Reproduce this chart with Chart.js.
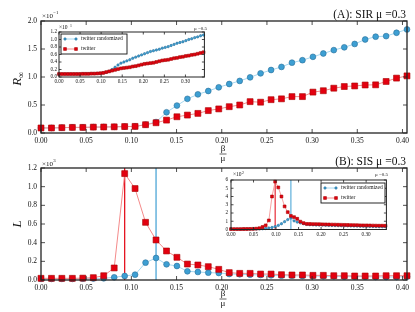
<!DOCTYPE html>
<html>
<head>
<meta charset="utf-8">
<script src="https://cdn.jsdelivr.net/npm/chart.js@4.4.0/dist/chart.umd.min.js"></script>
<style>
  html, body { margin: 0; padding: 0; background: #fff; }
  #wrap { position: relative; width: 415px; height: 312px; overflow: hidden; }
  canvas { position: absolute; }
</style>
</head>
<body>
<div id="wrap">
  <canvas id="sirMain" width="415" height="165" style="left:0;top:0"></canvas>
  <canvas id="sisMain" width="415" height="162" style="left:0;top:150px"></canvas>
  <canvas id="sirInset" width="165" height="64" style="left:44px;top:24px"></canvas>
  <canvas id="sisInset" width="175" height="70" style="left:216px;top:170px"></canvas>
</div>
<script>
// beta/mu values of the main panels (mu = 0.3)
const mainX = [0, 0.0116, 0.0231, 0.0347, 0.0463, 0.0579, 0.0694, 0.0810, 0.0926, 0.1041,
  0.1157, 0.1273, 0.1389, 0.1504, 0.1620, 0.1736, 0.1851, 0.1967, 0.2083, 0.2199,
  0.2314, 0.2430, 0.2546, 0.2661, 0.2777, 0.2893, 0.3009, 0.3124, 0.3240, 0.3356,
  0.3471, 0.3587, 0.3703, 0.3819, 0.3934, 0.4050];

// (A) SIR, R_inf in units of 1e-1
const sirRandomized = [0.09, 0.09, 0.095, 0.10, 0.10, 0.105, 0.107, 0.11, 0.115, 0.118,
  0.15, 0.195, 0.37, 0.49, 0.61, 0.69, 0.75, 0.816, 0.875, 0.93,
  0.994, 1.065, 1.125, 1.18, 1.256, 1.30, 1.36, 1.42, 1.48, 1.53,
  1.59, 1.67, 1.72, 1.73, 1.79, 1.85];
const sirTwitter = [0.09, 0.09, 0.095, 0.10, 0.10, 0.105, 0.107, 0.11, 0.115, 0.118,
  0.148, 0.183, 0.23, 0.29, 0.32, 0.35, 0.40, 0.43, 0.47, 0.50,
  0.56, 0.55, 0.595, 0.61, 0.65, 0.65, 0.73, 0.755, 0.80, 0.83,
  0.84, 0.857, 0.86, 0.92, 0.98, 1.02];

// (B) SIS, L in units of 1e3
const sisRandomized = [0.012, 0.012, 0.012, 0.012, 0.014, 0.016, 0.018, 0.029, 0.043, 0.057,
  0.186, 0.236, 0.168, 0.15, 0.093, 0.086, 0.079, 0.075, 0.064, 0.061,
  0.057, 0.054, 0.05, 0.046, 0.046, 0.043, 0.043, 0.04, 0.04, 0.036,
  0.036, 0.036, 0.032, 0.032, 0.032, 0.036];
const sisTwitter = [0.018, 0.018, 0.018, 0.018, 0.02, 0.025, 0.046, 0.129, 1.14, 0.98,
  0.618, 0.429, 0.311, 0.243, 0.171, 0.161, 0.143, 0.114, 0.079, 0.071,
  0.071, 0.064, 0.064, 0.057, 0.054, 0.054, 0.05, 0.05, 0.046, 0.046,
  0.043, 0.043, 0.043, 0.046, 0.046, 0.046];

// beta/mu values of the insets (mu = 0.5)
const insetX = [0, 0.007, 0.014, 0.021, 0.028, 0.035, 0.042, 0.049, 0.056, 0.063,
  0.070, 0.077, 0.084, 0.091, 0.098, 0.105, 0.112, 0.119, 0.126, 0.133,
  0.140, 0.147, 0.154, 0.161, 0.168, 0.175, 0.182, 0.189, 0.196, 0.203,
  0.210, 0.217, 0.224, 0.231, 0.238, 0.245, 0.252, 0.259, 0.266, 0.273,
  0.280, 0.287, 0.294, 0.301, 0.308, 0.315, 0.322, 0.329, 0.336, 0.343];

const sirInsetRandomized = [0.08, 0.08, 0.08, 0.08, 0.08, 0.08, 0.08, 0.08, 0.085, 0.085,
  0.085, 0.09, 0.09, 0.095, 0.10, 0.11, 0.125, 0.15, 0.20, 0.26,
  0.32, 0.37, 0.40, 0.43, 0.46, 0.50, 0.53, 0.56, 0.59, 0.62,
  0.65, 0.68, 0.70, 0.72, 0.74, 0.77, 0.79, 0.81, 0.84, 0.87,
  0.90, 0.92, 0.94, 0.97, 1.00, 1.02, 1.05, 1.07, 1.10, 1.12];
const sirInsetTwitter = [0.08, 0.08, 0.08, 0.08, 0.08, 0.08, 0.08, 0.08, 0.085, 0.085,
  0.085, 0.09, 0.09, 0.095, 0.10, 0.11, 0.13, 0.15, 0.17, 0.19,
  0.21, 0.23, 0.24, 0.25, 0.26, 0.28, 0.29, 0.31, 0.33, 0.35,
  0.36, 0.37, 0.38, 0.40, 0.42, 0.44, 0.45, 0.46, 0.48, 0.50,
  0.51, 0.53, 0.54, 0.56, 0.57, 0.59, 0.60, 0.62, 0.64, 0.66];

const sisInsetRandomized = [0.04, 0.04, 0.04, 0.04, 0.04, 0.05, 0.05, 0.05, 0.06, 0.07,
  0.09, 0.12, 0.18, 0.25, 0.35, 0.5, 0.7, 0.95, 1.2, 1.4,
  1.05, 0.9, 0.8, 0.7, 0.62, 0.58, 0.56, 0.55, 0.54, 0.53,
  0.52, 0.50, 0.49, 0.48, 0.47, 0.46, 0.45, 0.44, 0.43, 0.42,
  0.41, 0.40, 0.39, 0.38, 0.37, 0.36, 0.35, 0.34, 0.33, 0.32];
const sisInsetTwitter = [0.05, 0.05, 0.05, 0.05, 0.06, 0.06, 0.07, 0.08, 0.1, 0.15,
  0.3, 0.5, 1.1, 4.0, 5.8, 5.1, 4.0, 2.8, 2.1, 1.65,
  1.5, 1.3, 0.95, 0.78, 0.68, 0.67, 0.66, 0.65, 0.64, 0.63,
  0.62, 0.61, 0.60, 0.59, 0.58, 0.57, 0.56, 0.55, 0.54, 0.53,
  0.52, 0.51, 0.50, 0.50, 0.49, 0.48, 0.47, 0.46, 0.46, 0.45];

const seriesNames = ['twitter randomized', 'twitter'];

const mainXTicks = [0, 0.05, 0.10, 0.15, 0.20, 0.25, 0.30, 0.35, 0.40];
const insetXTicks = [0, 0.05, 0.10, 0.15, 0.20, 0.25, 0.30];
const sirYTicks = [0, 0.5, 1.0, 1.5, 2.0];
const sisYTicks = [0, 0.2, 0.4, 0.6, 0.8, 1.0, 1.2];
const sirInsetYTicks = [0, 0.2, 0.4, 0.6, 0.8, 1.0, 1.2];
const sisInsetYTicks = [0, 1, 2, 3, 4, 5, 6];

const SERIF = "'Liberation Serif', 'DejaVu Serif', serif";
const BLUE = '#3d9fd3', BLUE_EDGE = '#2a6e98', BLUE_LINE = '#a6d8f0';
const RED = '#e3000f', RED_EDGE = '#a80000', RED_LINE = '#f48a8a';

const peakOf = (xs, ys) => xs[ys.indexOf(Math.max(...ys))];

const drawMarker = (ctx, shape, x, y, r, fill, edge) => {
    ctx.fillStyle = fill;
    ctx.strokeStyle = edge;
    ctx.lineWidth = 0.6;
    ctx.beginPath();
    if (shape === 'rect') {
        const h = r * Math.SQRT1_2;
        ctx.rect(x - h, y - h, 2 * h, 2 * h);
    } else {
        ctx.arc(x, y, r, 0, Math.PI * 2);
    }
    ctx.fill();
    ctx.stroke();
};

const drawExp = (ctx, x, y, size, exp) => {
    ctx.fillStyle = '#111';
    ctx.font = `${size}px ${SERIF}`;
    ctx.textAlign = 'left';
    ctx.textBaseline = 'middle';
    ctx.fillText('×10', x, y);
    const w = ctx.measureText('×10').width;
    ctx.font = `${size * 0.7}px ${SERIF}`;
    ctx.fillText(exp, x + w + 0.3, y - size * 0.4);
};

const decoPlugin = {
    id: 'deco',
    beforeDatasetsDraw(chart, args, o) {
        const { ctx, chartArea: a, scales: { x } } = chart;
        (o.vlines || []).forEach(v => {
            const px = x.getPixelForValue(v.x);
            ctx.save();
            ctx.strokeStyle = v.color;
            ctx.lineWidth = v.width;
            ctx.beginPath();
            ctx.moveTo(px, a.top);
            ctx.lineTo(px, a.bottom);
            ctx.stroke();
            ctx.restore();
        });
    },
    afterDraw(chart, args, o) {
        const { ctx, chartArea: a, scales: { x, y } } = chart;
        ctx.save();

        // frame + inward ticks on all sides
        ctx.strokeStyle = '#222';
        ctx.lineWidth = o.frameW;
        ctx.strokeRect(a.left, a.top, a.right - a.left, a.bottom - a.top);
        ctx.lineWidth = 0.8;
        ctx.beginPath();
        x.ticks.forEach(t => {
            const px = x.getPixelForValue(t.value);
            ctx.moveTo(px, a.bottom); ctx.lineTo(px, a.bottom - o.tickLen);
            ctx.moveTo(px, a.top); ctx.lineTo(px, a.top + o.tickLen);
        });
        y.ticks.forEach(t => {
            const py = y.getPixelForValue(t.value);
            ctx.moveTo(a.left, py); ctx.lineTo(a.left + o.tickLen, py);
            ctx.moveTo(a.right, py); ctx.lineTo(a.right - o.tickLen, py);
        });
        ctx.stroke();

        if (o.exp) drawExp(ctx, o.exp.x, o.exp.y, o.exp.size, o.exp.text);

        ctx.fillStyle = '#111';
        if (o.title) {
            ctx.font = `${o.title.size}px ${SERIF}`;
            ctx.textAlign = 'right';
            ctx.textBaseline = 'middle';
            ctx.fillText(o.title.text, o.title.x, o.title.y);
        }

        if (o.frac) {
            const f = o.frac;
            ctx.font = `${f.size}px ${SERIF}`;
            ctx.textAlign = 'center';
            ctx.textBaseline = 'middle';
            ctx.fillText('β', f.x, f.y1);
            ctx.fillText('μ', f.x, f.y2);
            ctx.lineWidth = 0.7;
            ctx.beginPath();
            ctx.moveTo(f.x - 3.5, f.yl); ctx.lineTo(f.x + 3.5, f.yl);
            ctx.stroke();
        }

        if (o.ylabel) {
            const l = o.ylabel;
            ctx.save();
            ctx.translate(l.x, l.y);
            ctx.rotate(-Math.PI / 2);
            ctx.font = `italic ${l.size}px ${SERIF}`;
            ctx.textAlign = 'left';
            ctx.textBaseline = 'middle';
            const w = ctx.measureText(l.text).width;
            const subW = l.sub ? l.size * 0.75 : 0;
            ctx.fillText(l.text, -(w + subW) / 2, 0);
            if (l.sub) {
                ctx.font = `${l.size * 0.7}px ${SERIF}`;
                ctx.fillText(l.sub, -(w + subW) / 2 + w, l.size * 0.3);
            }
            ctx.restore();
        }

        if (o.note) {
            ctx.font = `${o.note.size}px ${SERIF}`;
            ctx.textAlign = 'right';
            ctx.textBaseline = 'middle';
            ctx.fillText(o.note.text, o.note.x, o.note.y);
        }

        if (o.legend) {
            const L = o.legend;
            ctx.fillStyle = '#fff';
            ctx.fillRect(L.x, L.y, L.w, L.h);
            ctx.strokeStyle = '#111';
            ctx.lineWidth = 0.9;
            ctx.strokeRect(L.x, L.y, L.w, L.h);
            chart.data.datasets.forEach((ds, i) => {
                const ry = L.y + L.h * (i + 0.5) / 2;
                ctx.strokeStyle = ds.borderColor;
                ctx.lineWidth = 1;
                ctx.beginPath();
                ctx.moveTo(L.x + 4, ry); ctx.lineTo(L.x + 15, ry);
                ctx.stroke();
                [L.x + 4, L.x + 15].forEach(mx => drawMarker(ctx, ds.pointStyle, mx, ry, ds.pointRadius, ds.pointBackgroundColor, ds.pointBorderColor));
                ctx.fillStyle = '#111';
                ctx.font = `${L.size}px ${SERIF}`;
                ctx.textAlign = 'left';
                ctx.textBaseline = 'middle';
                ctx.fillText(ds.label, L.x + 20, ry);
            });
        }
        ctx.restore();
    }
};
Chart.register(decoPlugin);

const makeChart = (id, cfg) => {
    const series = [
        { label: seriesNames[0], values: cfg.randomized, shape: 'circle', r: cfg.circleR, fill: BLUE, edge: BLUE_EDGE, line: BLUE_LINE, order: 1 },
        { label: seriesNames[1], values: cfg.twitter, shape: 'rect', r: cfg.rectR, fill: RED, edge: RED_EDGE, line: RED_LINE, order: 0 }
    ];
    return new Chart(document.getElementById(id), {
        type: 'line',
        data: {
            datasets: series.map(s => ({
                label: s.label,
                data: cfg.xs.map((xv, i) => ({ x: xv, y: s.values[i] })),
                borderColor: s.line,
                borderWidth: cfg.lineW,
                pointStyle: s.shape,
                pointRadius: s.r,
                pointBackgroundColor: s.fill,
                pointBorderColor: s.edge,
                pointBorderWidth: 0.6,
                order: s.order,
                tension: 0,
                fill: false,
                clip: 8
            }))
        },
        options: {
            responsive: false,
            animation: false,
            events: [],
            layout: { padding: cfg.pad },
            plugins: { legend: { display: false }, tooltip: { enabled: false }, deco: cfg.deco },
            scales: {
                x: {
                    type: 'linear', min: 0, max: cfg.xMax,
                    grid: { display: false, drawTicks: false }, border: { display: false },
                    afterBuildTicks: s => { s.ticks = cfg.xTicks.map(v => ({ value: v })); },
                    afterFit: s => { s.height = cfg.xH; },
                    ticks: { font: { family: SERIF, size: cfg.tickSize }, color: '#111', padding: cfg.xPad, maxRotation: 0, autoSkip: false, callback: v => v.toFixed(2) }
                },
                y: {
                    min: 0, max: cfg.yMax,
                    grid: { display: false, drawTicks: false }, border: { display: false },
                    afterBuildTicks: s => { s.ticks = cfg.yTicks.map(v => ({ value: v })); },
                    afterFit: s => { s.width = cfg.yW; },
                    ticks: { font: { family: SERIF, size: cfg.tickSize }, color: '#111', padding: cfg.yPad, autoSkip: false, callback: v => v.toFixed(cfg.yDigits) }
                }
            }
        }
    });
};

// (A) SIR main panel
makeChart('sirMain', {
    xs: mainX, randomized: sirRandomized, twitter: sirTwitter,
    xMax: 0.405, yMax: 2.0, xTicks: mainXTicks, yTicks: sirYTicks, yDigits: 1,
    pad: { left: 0, right: 8, top: 21, bottom: 0 }, xH: 32, yW: 41, xPad: 4, yPad: 4, tickSize: 7.5,
    circleR: 2.9, rectR: 4.2, lineW: 1,
    deco: {
        frameW: 1.3, tickLen: 4,
        title: { text: '(A): SIR μ =0.3', x: 406, y: 15, size: 11.5 },
        exp: { text: '−1', x: 42, y: 16, size: 7 },
        frac: { x: 223, y1: 149, yl: 154, y2: 159, size: 9 },
        ylabel: { text: 'R', sub: '∞', x: 18, y: 77, size: 13 }
    }
});

// (B) SIS main panel
makeChart('sisMain', {
    xs: mainX, randomized: sisRandomized, twitter: sisTwitter,
    xMax: 0.405, yMax: 1.2, xTicks: mainXTicks, yTicks: sisYTicks, yDigits: 1,
    pad: { left: 0, right: 8, top: 18, bottom: 0 }, xH: 32, yW: 41, xPad: 4, yPad: 4, tickSize: 7.5,
    circleR: 2.9, rectR: 4.2, lineW: 1,
    deco: {
        frameW: 1.3, tickLen: 4,
        title: { text: '(B): SIS μ =0.3', x: 406, y: 12, size: 11.5 },
        exp: { text: '3', x: 42, y: 14, size: 7 },
        frac: { x: 223, y1: 144, yl: 149, y2: 154, size: 9 },
        ylabel: { text: 'L', x: 18, y: 74, size: 13 },
        vlines: [
            { x: peakOf(mainX, sisTwitter), color: RED, width: 1.2 },
            { x: peakOf(mainX, sisRandomized), color: BLUE, width: 1.2 }
        ]
    }
});

// SIR inset (mu = 0.5)
makeChart('sirInset', {
    xs: insetX, randomized: sirInsetRandomized, twitter: sirInsetTwitter,
    xMax: 0.345, yMax: 1.2, xTicks: insetXTicks, yTicks: sirInsetYTicks, yDigits: 1,
    pad: { left: 0, right: 2, top: 8, bottom: 0 }, xH: 11, yW: 15, xPad: 2, yPad: 2, tickSize: 5.2,
    circleR: 1.2, rectR: 2, lineW: 0.8,
    deco: {
        frameW: 1, tickLen: 2.5,
        exp: { text: '−1', x: 15, y: 4, size: 5.5 },
        note: { text: 'μ =0.5', x: 163, y: 5, size: 5 },
        legend: { x: 17, y: 10, w: 66, h: 20, size: 5.5 }
    }
});

// SIS inset (mu = 0.5)
makeChart('sisInset', {
    xs: insetX, randomized: sisInsetRandomized, twitter: sisInsetTwitter,
    xMax: 0.345, yMax: 6, xTicks: insetXTicks, yTicks: sisInsetYTicks, yDigits: 0,
    pad: { left: 0, right: 2, top: 10, bottom: 0 }, xH: 10.5, yW: 15, xPad: 2, yPad: 3, tickSize: 5.2,
    circleR: 1.2, rectR: 2, lineW: 0.8,
    deco: {
        frameW: 1, tickLen: 2.5,
        exp: { text: '2', x: 17, y: 5, size: 5.5 },
        note: { text: 'μ =0.5', x: 172, y: 5, size: 5 },
        legend: { x: 105, y: 13, w: 64, h: 20, size: 5.5 },
        vlines: [
            { x: peakOf(insetX, sisInsetTwitter), color: RED, width: 1 },
            { x: peakOf(insetX, sisInsetRandomized), color: BLUE, width: 1 }
        ]
    }
});
</script>
</body>
</html>
